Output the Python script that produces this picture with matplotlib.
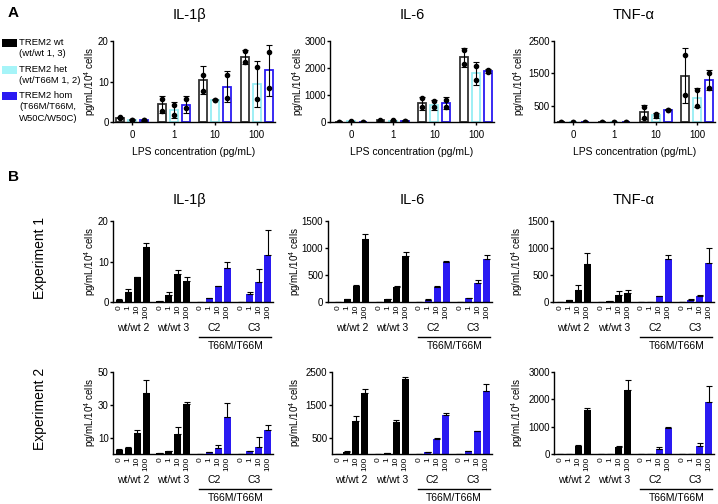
import matplotlib
matplotlib.use('Agg')
import matplotlib.pyplot as plt
import matplotlib.transforms as mtransforms
from matplotlib.patches import Rectangle
import numpy as np

plt.rcParams['font.family'] = ['Liberation Sans', 'DejaVu Sans']
plt.rcParams['mathtext.default'] = 'regular'

# ------------------------------------------------------------------ #
#                          data                 #
# ------------------------------------------------------------------ #

cytokines = ['IL-1β', 'IL-6', 'TNF-α']
conc = ['0', '1', '10', '100']
geno_labels = ['TREM2 wt\n(wt/wt 1, 3)', 'TREM2 het\n(wt/T66M 1, 2)',
               'TREM2 hom\n(T66M/T66M,\nW50C/W50C)']
geno_colors = ['#333333', '#96eef4', '#2a1af2']
legend_colors = ['black', '#a6f4f8', '#2a1af2']

# panel A: rows = wt, het, hom ; columns = 0, 1, 10, 100 pg/mL
a_il1b_mean = [[1.1, 4.4, 10.4, 16.1], [0.6, 3.0, 5.5, 9.4], [0.4, 4.2, 8.7, 12.8]]
a_il1b_sd = [[0.1, 2.1, 3.4, 1.7], [0.1, 1.9, 0.1, 5.7], [0.05, 2.1, 3.8, 6.3]]
a_il1b_dot1 = [[1.2, 5.7, 11.6, 17.5], [0.6, 4.2, 5.5, 13.7], [0.4, 5.7, 11.5, 17.2]]
a_il1b_dot2 = [[1.0, 2.8, 7.7, 14.7], [0.6, 1.7, 5.5, 5.6], [0.4, 3.4, 6.0, 8.4]]

a_il6_mean = [[0, 60, 700, 2390], [20, 50, 640, 1800], [0, 50, 700, 1890]]
a_il6_sd = [[10, 20, 240, 350], [10, 15, 180, 420], [5, 10, 235, 60]]
a_il6_dot1 = [[0, 80, 880, 2660], [20, 60, 760, 2090], [0, 55, 820, 1920]]
a_il6_dot2 = [[0, 40, 550, 2130], [10, 40, 550, 1555], [0, 45, 550, 1850]]

a_tnf_mean = [[0, 10, 300, 1435], [0, 10, 210, 745], [0, 10, 380, 1290]]
a_tnf_sd = [[5, 5, 210, 850], [3, 3, 80, 290], [3, 3, 10, 300]]
a_tnf_dot1 = [[0, 15, 450, 2055], [0, 10, 250, 980], [0, 10, 380, 1520]]
a_tnf_dot2 = [[0, 5, 125, 825], [0, 10, 175, 505], [0, 10, 380, 1055]]

# panel B: 4 lines x 4 concentrations (wt/wt 2, wt/wt 3, C2, C3)
b_lines = ['wt/wt 2', 'wt/wt 3', 'C2', 'C3']
b_line_colors = ['black', 'black', '#2a1af2', '#2a1af2']

b1_il1b = [0.6, 2.5, 6.1, 13.7, 0.3, 1.7, 7.0, 5.2, 0, 0.9, 3.9, 8.3, 0, 1.9, 4.9, 11.6]
b1_il1b_err = [0.1, 0.8, 0.1, 0.8, 0, 0.7, 0.9, 0.9, 0, 0.2, 0.1, 1.5, 0, 0.6, 3.3, 6.2]
b1_il6 = [0, 50, 296, 1173, 0, 55, 278, 852, 0, 43, 278, 747, 0, 74, 358, 790]
b1_il6_err = [0, 5, 19, 80, 0, 3, 12, 74, 0, 12, 12, 18, 0, 5, 43, 74]
b1_tnf = [0, 31, 228, 710, 0, 12, 130, 173, 0, 6, 105, 802, 0, 37, 105, 728]
b1_tnf_err = [0, 12, 81, 191, 0, 3, 74, 49, 0, 2, 6, 62, 0, 12, 25, 266]

b2_il1b = [2.4, 3.4, 13.1, 37.1, 0.8, 1.6, 12.5, 30.3, 0, 1.0, 3.6, 22.3, 0, 1.6, 4.3, 14.5]
b2_il1b_err = [0.6, 0.9, 1.4, 8.1, 0.1, 0.2, 3.7, 1.2, 0, 0.4, 1.7, 8.6, 0, 0.3, 6.1, 3.1]
b2_il6 = [10, 60, 1010, 1865, 0, 40, 970, 2275, 0, 50, 470, 1190, 0, 80, 715, 1915]
b2_il6_err = [0, 30, 135, 120, 0, 0, 75, 70, 0, 0, 15, 45, 0, 0, 0, 225]
b2_tnf = [0, 0, 306, 1615, 0, 0, 270, 2325, 0, 0, 184, 942, 0, 0, 282, 1897]
b2_tnf_err = [0, 0, 24, 61, 0, 0, 24, 392, 0, 0, 61, 49, 0, 0, 122, 575]

# ------------------------------------------------------------------ #
#                              layout                                 #
# ------------------------------------------------------------------ #

W, H = 718, 504
fig = plt.figure(figsize=(W / 100, H / 100), dpi=100)


def px_axes(left, right, top, bottom):
    return fig.add_axes([left / W, 1 - bottom / H, (right - left) / W, (bottom - top) / H])


def style(ax):
    ax.spines['top'].set_visible(False)
    ax.spines['right'].set_visible(False)
    ax.spines['left'].set_linewidth(1.0)
    ax.spines['bottom'].set_linewidth(1.0)
    ax.tick_params(direction='out', length=2.5, width=1, labelsize=7, pad=0.6)


def put_ylabel(ax, x_px, left, right):
    ax.set_ylabel(ylab, fontsize=7)
    ax.yaxis.set_label_coords((x_px - left) / (right - left), 0.5)
    ax.yaxis.label.set_verticalalignment('center')


ylab = 'pg/mL/10$^4$ cells'

# ------------------------------------------------------------------ #
#                              panel A                                #
# ------------------------------------------------------------------ #

a_sets = [
    (a_il1b_mean, a_il1b_sd, a_il1b_dot1, a_il1b_dot2, (0, 20), [0, 10, 20], ['0', '10', '20']),
    (a_il6_mean, a_il6_sd, a_il6_dot1, a_il6_dot2, (0, 3000), [0, 1000, 2000, 3000],
     ['0', '1000', '2000', '3000']),
    (a_tnf_mean, a_tnf_sd, a_tnf_dot1, a_tnf_dot2, (0, 2500), [500, 1500, 2500],
     ['500', '1500', '2500']),
]
a_boxes = [(113, 275, 41, 122), (330, 494, 41, 122), (554, 715, 41, 122)]
a_xlims = [(-0.46, 3.44), (-0.5, 3.43), (-0.46, 3.43)]
a_ylab_x = [90, 298, 519]

for k in range(3):
    mean, sd, d1, d2, ylim, yt, ytl = a_sets[k]
    ax = px_axes(*a_boxes[k])
    style(ax)
    for g in range(3):
        x = np.arange(4) + (g - 1) * 0.29
        ax.bar(x, mean[g], width=0.19, facecolor='white', edgecolor=geno_colors[g],
               linewidth=1.3, zorder=2)
        ax.errorbar(x, mean[g], yerr=sd[g], fmt='none', ecolor='black', elinewidth=0.8,
                    capsize=2, capthick=0.8, zorder=3)
        ax.plot(x, d1[g], 'o', color='black', ms=3, zorder=4)
        ax.plot(x, d2[g], 'o', color='black', ms=3, zorder=4)
    ax.set_xlim(*a_xlims[k])
    ax.set_ylim(*ylim)
    ax.set_yticks(yt)
    ax.set_yticklabels(ytl)
    ax.set_xticks(np.arange(4))
    ax.set_xticklabels(conc)
    ax.tick_params(axis='x', pad=3)
    ax.set_xlabel('LPS concentration (pg/mL)', fontsize=7.5, labelpad=5)
    put_ylabel(ax, a_ylab_x[k], a_boxes[k][0], a_boxes[k][1])

# legend of panel A
leg_y = [43, 70, 96]
for g in range(3):
    fig.add_artist(Rectangle((2 / W, 1 - (leg_y[g] + 4) / H), 15 / W, 8 / H,
                             transform=fig.transFigure, facecolor=legend_colors[g],
                             edgecolor='none'))
    fig.text(19 / W, 1 - (leg_y[g] - 5) / H, geno_labels[g], fontsize=6.8, va='top',
             ha='left', linespacing=1.35)

# ------------------------------------------------------------------ #
#                              panel B                                #
# ------------------------------------------------------------------ #

b_sets = [
    [(b1_il1b, b1_il1b_err, 20, [0, 10, 20], ['0', '10', '20']),
     (b1_il6, b1_il6_err, 1500, [0, 500, 1000, 1500], ['0', '500', '1000', '1500']),
     (b1_tnf, b1_tnf_err, 1500, [0, 500, 1000, 1500], ['0', '500', '1000', '1500'])],
    [(b2_il1b, b2_il1b_err, 50, [10, 30, 50], ['10', '30', '50']),
     (b2_il6, b2_il6_err, 2500, [500, 1500, 2500], ['500', '1500', '2500']),
     (b2_tnf, b2_tnf_err, 3000, [0, 1000, 2000, 3000], ['0', '1000', '2000', '3000'])],
]
b_rows = [(221, 302), (372, 454)]
b_lefts = [[(113, -0.7), (327.5, -1.2), (553, -0.8)],
           [(113, -0.7), (331.5, -0.7), (554, -0.7)]]
b_ylab_x = [90, 295, 517]
xr = 17.1
pos = np.array([g * 4.5 + i for g in range(4) for i in range(4)])
bar_cols = [b_line_colors[g] for g in range(4) for i in range(4)]

for r in range(2):
    top, bottom = b_rows[r]
    for k in range(3):
        vals, err, ymax, yt, ytl = b_sets[r][k]
        left, xl = b_lefts[r][k]
        right = left + (xr - xl) * 9
        ax = px_axes(left, right, top, bottom)
        style(ax)
        ax.bar(pos, vals, width=0.75, color=bar_cols, zorder=2)
        ax.errorbar(pos, vals, yerr=[np.zeros(16), err], fmt='none', ecolor='black',
                    elinewidth=0.8, capsize=2, capthick=0.8, zorder=3)
        ax.set_xlim(xl, xr)
        ax.set_ylim(0, ymax)
        ax.set_yticks(yt)
        ax.set_yticklabels(ytl)
        ax.set_xticks(pos)
        ax.set_xticklabels(conc * 4, rotation=90, fontsize=6)
        ax.tick_params(axis='x', length=0, pad=2)
        put_ylabel(ax, b_ylab_x[k], left, right)

        base = mtransforms.blended_transform_factory(ax.transData, ax.transAxes)
        for g in range(4):
            ax.annotate(b_lines[g], xy=(g * 4.5 + 1.5, 0), xycoords=base,
                        xytext=(0, -26 * 0.72), textcoords='offset points',
                        ha='center', va='center', fontsize=7.5)
        tline = mtransforms.offset_copy(base, fig=fig, y=-35 * 0.72, units='points')
        ax.plot([8.9, 16.9], [0, 0], color='black', lw=1.0, transform=tline, clip_on=False)
        ax.annotate('T66M/T66M', xy=(12.9, 0), xycoords=base,
                    xytext=(0, -44 * 0.72), textcoords='offset points',
                    ha='center', va='center', fontsize=7.5)

# ------------------------------------------------------------------ #
#                         titles and labels                           #
# ------------------------------------------------------------------ #

title_x = [190, 412, 634]
for k in range(3):
    fig.text(title_x[k] / W, 1 - 15 / H, cytokines[k], fontsize=10.5, ha='center', va='center')
    fig.text(title_x[k] / W, 1 - 200 / H, cytokines[k], fontsize=10.5, ha='center', va='center')

fig.text(8 / W, 1 - 13 / H, 'A', fontsize=11, fontweight='bold', ha='left', va='center')
fig.text(8 / W, 1 - 177 / H, 'B', fontsize=11, fontweight='bold', ha='left', va='center')
fig.text(40 / W, 1 - 258 / H, 'Experiment 1', fontsize=10, rotation=90, ha='center', va='center')
fig.text(40 / W, 1 - 409 / H, 'Experiment 2', fontsize=10, rotation=90, ha='center', va='center')

plt.savefig('out.png', dpi=100)
plt.close()
